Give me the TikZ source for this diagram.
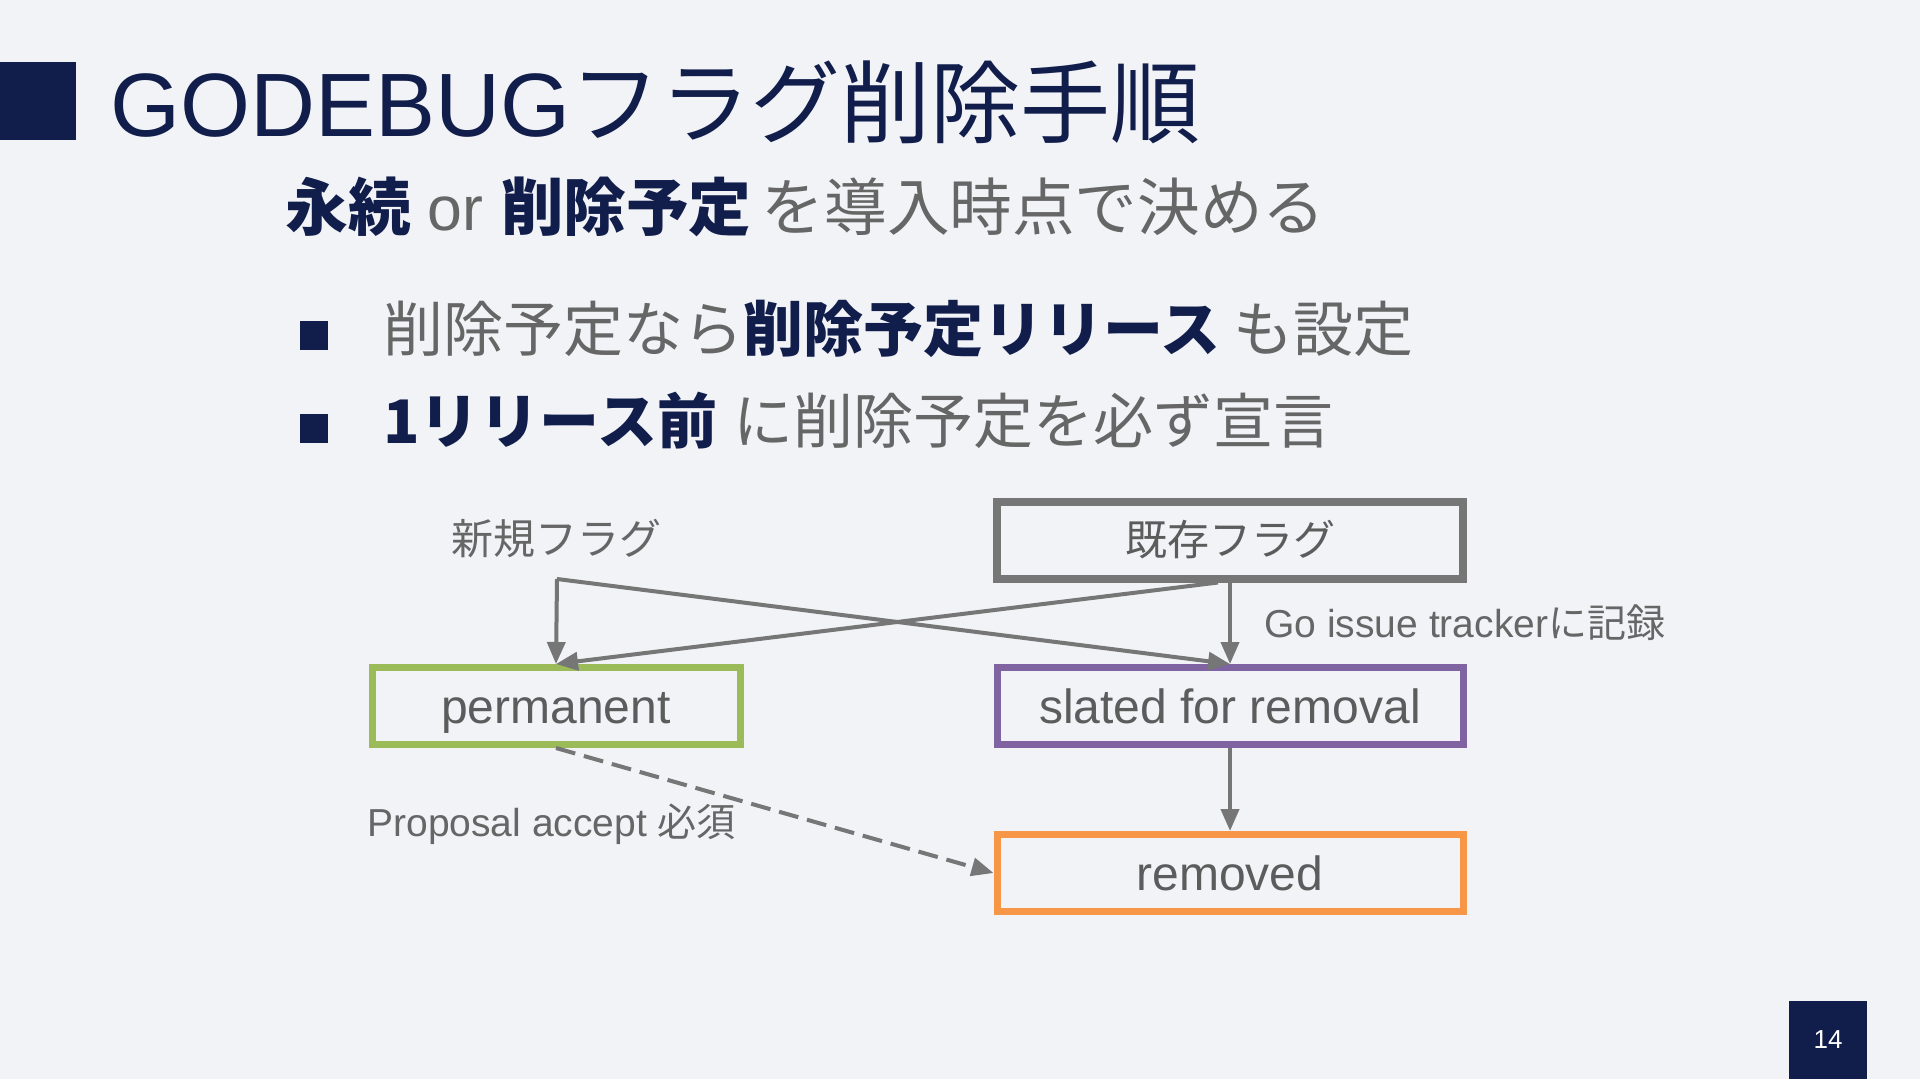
\documentclass[tikz,border=0pt]{standalone}
\usepackage{fontspec}
\setmainfont{Liberation Sans}
\newfontfamily\jp{Noto Sans CJK JP}
\usetikzlibrary{arrows.meta}
\definecolor{slidebg}{HTML}{F1F3F7}
\definecolor{navy}{HTML}{111D4A}
\definecolor{txtgray}{HTML}{666666}
\definecolor{boxtext}{HTML}{5C5C5C}
\definecolor{linegray}{HTML}{767676}
\definecolor{permgreen}{HTML}{9BBB59}
\definecolor{slatedpurple}{HTML}{8064A2}
\definecolor{removedorange}{HTML}{F79646}
\newcommand\keyjp[1]{{\color{navy}\jp\bfseries #1}}
\tikzset{
  flagbox/.style={draw, line width=3.5pt, minimum width=233pt, minimum height=38.5pt,
    inner sep=0pt, text=boxtext, font=\fontsize{24}{28}\selectfont},
  statebox/.style={flagbox, text height=17.5pt, text depth=0pt},
  flow/.style={draw=linegray, line width=2pt, -{Triangle[length=11pt,width=9pt]}},
  plain/.style={inner sep=0pt, anchor=west}
}
\begin{document}
\begin{tikzpicture}[x=0.5pt, y=-0.5pt]
  \fill[slidebg] (0,0) rectangle (1920,1079);
  \useasboundingbox (0,0) rectangle (1920,1079);
  \fill[navy] (0,62) rectangle (76,140);
  \node[plain, text=navy, font=\fontsize{45}{54}\selectfont] (title) at (110,102)
    {GODEBUG{\jp フラグ削除手順}};
  \node[plain, text=txtgray, font=\fontsize{31.3}{36}\selectfont] (lead) at (285,207)
    {\keyjp{永続} or \keyjp{削除予定}\,{\jp を導入時点で決める}};
  \fill[navy] (300,321) rectangle (328,350);
  \node[plain, text=txtgray, font=\fontsize{30}{36}\selectfont] (item1) at (383,329)
    {\jp 削除予定なら\keyjp{削除予定リリース} も設定};
  \fill[navy] (300,414) rectangle (328,443);
  \node[plain, text=txtgray, font=\fontsize{30}{36}\selectfont] (item2) at (383,421)
    {\keyjp{1リリース前} {\jp に削除予定を必ず宣言}};

  \node[text=txtgray, inner sep=0pt, font=\fontsize{21}{25}\selectfont\jp] (shinki) at (556,539) {新規フラグ};
  \coordinate (fork) at (557,579);
  \node[flagbox, draw=linegray, line width=4pt, font=\fontsize{21}{25}\selectfont\jp] (kizon) at (1230,540) {既存フラグ};
  \node[statebox, draw=permgreen, minimum width=184pt] (perm) at (556,706) {permanent};
  \node[statebox, draw=slatedpurple] (slated) at (1230,706) {slated for removal};
  \node[statebox, draw=removedorange] (removed) at (1230,873) {removed};

  \draw[flow] (fork) -- (perm.north);
  \draw[flow] (fork) -- (slated.north);
  \draw[flow] ([xshift=-6pt]kizon.south) -- (perm.north);
  \draw[flow] (kizon.south) -- (slated.north);
  \draw[flow] (slated.south) -- (removed.north);
  \draw[flow, dash pattern=on 10pt off 4.5pt] (perm.south) -- (removed.west);

  \node[plain, text=txtgray, font=\fontsize{19.5}{23}\selectfont] (tracker) at (1264,623)
    {Go issue tracker{\jp に記録}};
  \node[plain, text=txtgray, font=\fontsize{19.5}{23}\selectfont] (proposal) at (367,824)
    {Proposal accept {\jp 必須}};

  \fill[navy] (1789,1001) rectangle (1867,1079);
  \node[text=white, inner sep=0pt, font=\fontsize{13}{15}\selectfont] (page) at (1828,1040) {14};
\end{tikzpicture}
\end{document}
